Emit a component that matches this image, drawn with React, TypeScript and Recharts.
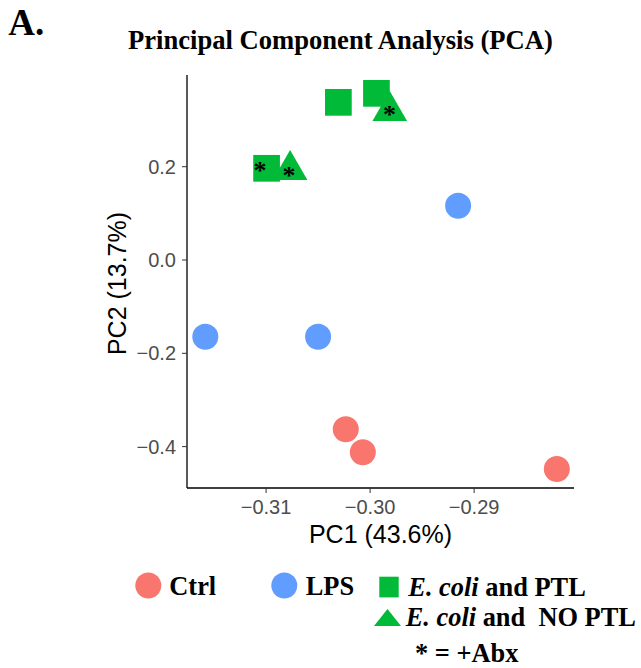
import { ScatterChart, Scatter, XAxis, YAxis, Label } from "recharts";

// PCA scores
const ctrlX = [-0.30234, -0.3007, -0.28205];
const ctrlY = [-0.3629, -0.4122, -0.448];
const lpsX = [-0.31584, -0.305, -0.29154];
const lpsY = [-0.1644, -0.1644, 0.1164];
const ptlX = [-0.30305, -0.29939, -0.30995];
const ptlY = [0.338, 0.3573, 0.1966];
const noPtlX = [-0.29811, -0.30769];
const noPtlY = [0.3194, 0.1929];
// "+Abx" samples are marked with an asterisk
const abxX = [-0.31058, -0.30779, -0.29814];
const abxY = [0.1987, 0.1893, 0.32];

const xTicks = [-0.31, -0.3, -0.29];
const yTicks = [-0.4, -0.2, 0, 0.2];

const RED = "#F8766D";
const BLUE = "#619CFF";
const GREEN = "#00BA38";
const SANS = "'Liberation Sans', Arial, sans-serif";
const SERIF = "'Liberation Serif', 'Times New Roman', serif";

const toPoints = (xs: number[], ys: number[]) => xs.map((x, i) => ({ x, y: ys[i] }));

const fmt = (digits: number) => (v: number) =>
  (v < 0 ? "\u2212" : "") + Math.abs(v).toFixed(digits);

function Dot(props: any) {
  const { cx, cy, fill } = props;
  return <circle cx={cx} cy={cy} r={13} fill={fill} />;
}

function Square(props: any) {
  const { cx, cy } = props;
  const s = 26.7;
  return <rect x={cx - s / 2} y={cy - s / 2} width={s} height={s} fill={GREEN} />;
}

function Triangle(props: any) {
  const { cx, cy } = props;
  const r = 20;
  const xc = r * 0.866;
  return (
    <polygon
      points={`${cx},${cy - r} ${cx + xc},${cy + r / 2} ${cx - xc},${cy + r / 2}`}
      fill={GREEN}
    />
  );
}

function Star(props: any) {
  const { cx, cy } = props;
  return (
    <text
      x={cx}
      y={cy + 12}
      textAnchor="middle"
      fontFamily={SERIF}
      fontWeight="bold"
      fontSize={26}
      fill="#000"
    >
      *
    </text>
  );
}

function XTitle({ viewBox }: any) {
  const vb = viewBox ?? { x: 187, y: 488, width: 387 };
  return (
    <text x={vb.x + vb.width / 2} y={vb.y + 55} textAnchor="middle"
      fontFamily={SANS} fontSize={25} fill="#000">
      PC1 (43.6%)
    </text>
  );
}

function YTitle({ viewBox }: any) {
  const vb = viewBox ?? { x: 0, y: 75, width: 187, height: 413 };
  const x = vb.x + vb.width - 61;
  const y = vb.y + vb.height / 2 + 2;
  return (
    <text x={x} y={y} transform={`rotate(-90 ${x} ${y})`} textAnchor="middle"
      fontFamily={SANS} fontSize={25} fill="#000">
      PC2 (13.7%)
    </text>
  );
}

export default function App() {
  const tick = { fontSize: 20, fill: "#4d4d4d", fontFamily: SANS };
  return (
    <div style={{ position: "absolute", left: 0, top: 0, width: 641, height: 668, background: "#fff" }}>
      <ScatterChart width={641} height={668} margin={{ top: 75, right: 67, bottom: 120, left: 0 }}>
        <XAxis
          type="number"
          dataKey="x"
          domain={[-0.3176, -0.2804]}
          allowDataOverflow
          ticks={xTicks}
          tickFormatter={fmt(2)}
          tick={tick}
          tickSize={5}
          tickMargin={7}
          height={60}
          axisLine={{ stroke: "#000", strokeWidth: 1.3 }}
          tickLine={{ stroke: "#333" }}
        >
          <Label content={<XTitle />} />
        </XAxis>
        <YAxis
          type="number"
          dataKey="y"
          domain={[-0.4887, 0.3966]}
          allowDataOverflow
          ticks={yTicks}
          tickFormatter={fmt(1)}
          tick={tick}
          tickSize={5}
          tickMargin={6}
          width={187}
          axisLine={{ stroke: "#000", strokeWidth: 1.3 }}
          tickLine={{ stroke: "#333" }}
        >
          <Label content={<YTitle />} />
        </YAxis>
        <Scatter name="Ctrl" data={toPoints(ctrlX, ctrlY)} fill={RED} shape={<Dot />} isAnimationActive={false} />
        <Scatter name="LPS" data={toPoints(lpsX, lpsY)} fill={BLUE} shape={<Dot />} isAnimationActive={false} />
        <Scatter name="E. coli and PTL" data={toPoints(ptlX, ptlY)} fill={GREEN} shape={<Square />} isAnimationActive={false} />
        <Scatter name="E. coli and NO PTL" data={toPoints(noPtlX, noPtlY)} fill={GREEN} shape={<Triangle />} isAnimationActive={false} />
        <Scatter name="+Abx" data={toPoints(abxX, abxY)} fill="#000" shape={<Star />} isAnimationActive={false} />
      </ScatterChart>

      <svg width={641} height={668} style={{ position: "absolute", left: 0, top: 0, pointerEvents: "none" }}>
        <g fontFamily={SERIF} fontWeight="bold" fill="#000">
          <text x={8.3} y={35} fontSize={37}>A.</text>
          <text x={128} y={49} fontSize={26.6}>Principal Component Analysis (PCA)</text>

          <circle cx={148.3} cy={585.5} r={13} fill={RED} />
          <text x={169.3} y={595} fontSize={26.4}>Ctrl</text>
          <circle cx={284.3} cy={585.5} r={13} fill={BLUE} />
          <text x={305.7} y={595} fontSize={26.4}>LPS</text>

          <rect x={379.3} y={576.7} width={19.4} height={20.7} fill={GREEN} />
          <text x={408.3} y={596} fontSize={26.4} style={{ whiteSpace: "pre" }}>
            <tspan fontStyle="italic">E. coli</tspan> and PTL
          </text>
          <polygon points="387.5,609 401,626 374,626" fill={GREEN} />
          <text x={405.7} y={626} fontSize={26.4} style={{ whiteSpace: "pre" }}>
            <tspan fontStyle="italic">E. coli</tspan>{" and  NO PTL"}
          </text>
          <text x={415} y={661.5} fontSize={26.4}>* = +Abx</text>
        </g>
      </svg>
    </div>
  );
}
